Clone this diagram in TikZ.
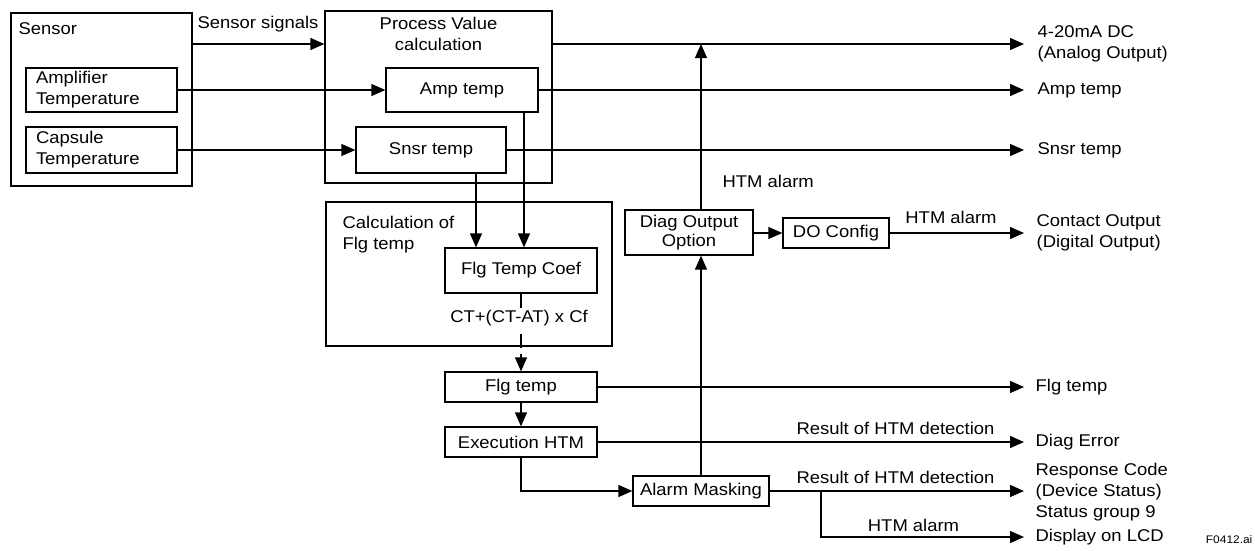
\documentclass[tikz,border=0pt]{standalone}
\usepackage{fontspec}
\setmainfont{Liberation Sans}[FakeStretch=1.085]
\usetikzlibrary{arrows.meta}
\newcommand{\dfont}{\fontsize{17}{21}\selectfont}
\newcommand{\sfont}{\fontsize{11}{12}\selectfont}
\begin{document}
\begin{tikzpicture}[x=1pt,y=-1pt,line width=1.25pt,
  >={Triangle[length=14pt,width=12pt]},
  box/.style={draw,inner sep=0pt,align=center,font=\dfont},
  lbl/.style={inner sep=0pt,font=\dfont},
  thickbox/.style={draw,line width=2pt,inner sep=0pt},
  dashline/.style={dash pattern=on 14pt off 6pt}]
\fill[white] (0,0) rectangle (1255,550);
\useasboundingbox (0,0) rectangle (1255,550);

% containers
\node[box,minimum width=181pt,minimum height=173pt] (sensor) at (101.5,99.5) {};
\node[lbl,anchor=west] (sensorlbl) at (18,29) {Sensor};
\node[box,minimum width=227pt,minimum height=172pt] (pv) at (438.5,97) {};
\node[lbl,align=center] (pvlbl) at (438.5,34) {Process Value\\calculation};
\node[thickbox,minimum width=286pt,minimum height=144pt] (calc) at (469,274) {};
\node[lbl,align=left,anchor=west] (calclbl) at (342,234.5) {Calculation of\\Flg temp};

% boxes
\node[box,align=left,text width=131pt,inner xsep=10pt,minimum height=44pt] (ampsrc) at (101.5,90) {Amplifier\\Temperature};
\node[box,align=left,text width=131pt,inner xsep=10pt,minimum height=46pt] (capsrc) at (101.5,150) {Capsule\\Temperature};
\node[box,minimum width=152pt,minimum height=44pt] (amptemp) at (462,90) {Amp temp};
\node[box,minimum width=150pt,minimum height=46pt] (snsrtemp) at (431,150) {Snsr temp};
\node[box,minimum width=152pt,minimum height=45pt] (coef) at (521,270.5) {Flg Temp Coef};
\node[box,minimum width=152pt,minimum height=30pt] (flg) at (521,387) {Flg temp};
\node[box,minimum width=152pt,minimum height=30pt] (exec) at (521,442) {Execution HTM};
\node[box,minimum width=136pt,minimum height=30pt] (alarm) at (701,491) {Alarm Masking};
\node[box,minimum width=128pt,minimum height=45pt] (diag) at (689,232.5) {Diag Output\\[-2pt]Option};
\node[box,minimum width=106pt,minimum height=30pt] (doc) at (836,233) {DO Config};

% outputs
\node[lbl,anchor=west,align=left] (o1) at (1037,44) {4-20mA DC\\(Analog Output)};
\node[lbl,anchor=west] (o2) at (1037,90) {Amp temp};
\node[lbl,anchor=west] (o3) at (1037,150) {Snsr temp};
\node[lbl,anchor=west,align=left] (o4) at (1036,233) {Contact Output\\(Digital Output)};
\node[lbl,anchor=west] (o5) at (1035,387) {Flg temp};
\node[lbl,anchor=west] (o6) at (1035,442) {Diag Error};
\node[lbl,anchor=west,align=left] (o7) at (1035,492) {Response Code\\(Device Status)\\Status group 9};
\node[lbl,anchor=west] (o8) at (1035,537) {Display on LCD};
\node[inner sep=0pt,font=\sfont,anchor=east] (fig) at (1253,540) {F0412.ai};

\coordinate (t1) at (1024,44);
\coordinate (t2) at (1024,90);
\coordinate (t3) at (1024,150);
\coordinate (t4) at (1024,233);
\coordinate (t5) at (1024,387);
\coordinate (t6) at (1024,442);
\coordinate (t7) at (1024,491);
\coordinate (t8) at (1024,537);
\coordinate (v1) at (476,0);
\coordinate (v2) at (524,0);
\coordinate (br) at (821,491);

% edge labels
\node[lbl] (lsig) at (258,24) {Sensor signals};
\node[lbl,anchor=west] (lhtm1) at (722,181) {HTM alarm};
\node[lbl] (lhtm2) at (951,217) {HTM alarm};
\node[lbl] (lres1) at (895.5,428) {Result of HTM detection};
\node[lbl] (lres2) at (895.5,477) {Result of HTM detection};
\node[lbl] (lhtm3) at (913.5,525) {HTM alarm};

% connectors
\draw[->] (sensor.east |- t1) -- (pv.west |- t1);
\draw[->] (pv.east |- t1) -- (t1);
\draw[->] (ampsrc.east) -- (ampsrc.east -| amptemp.west);
\draw[->] (amptemp.east |- t2) -- (t2);
\draw[->] (capsrc.east) -- (capsrc.east -| snsrtemp.west);
\draw[->] (snsrtemp.east |- t3) -- (t3);
\draw[->] (snsrtemp.south -| v1) -- (coef.north -| v1);
\draw[->] (amptemp.south -| v2) -- (coef.north -| v2);
\draw[dashline] (coef.south) -- (flg.north);
\draw[->] ([yshift=14pt]flg.north) -- (flg.north);
\node[lbl,fill=white,inner sep=2pt] (formula) at (519,318) {CT+(CT-AT) x Cf};
\draw[->] (flg.south) -- (exec.north);
\draw[->] (flg.east) -- (t5);
\draw[->] (exec.east) -- (t6);
\draw[->] (exec.south) |- (alarm.west);
\draw[->] (alarm.north) -- (alarm.north |- diag.south);
\draw[->] (alarm.north |- diag.north) -- (alarm.north |- t1);
\draw[->] (alarm.east) -- (t7);
\draw[->] (br) |- (t8);
\draw[->] (diag.east |- doc.west) -- (doc.west);
\draw[->] (doc.east) -- (t4);
\end{tikzpicture}
\end{document}
